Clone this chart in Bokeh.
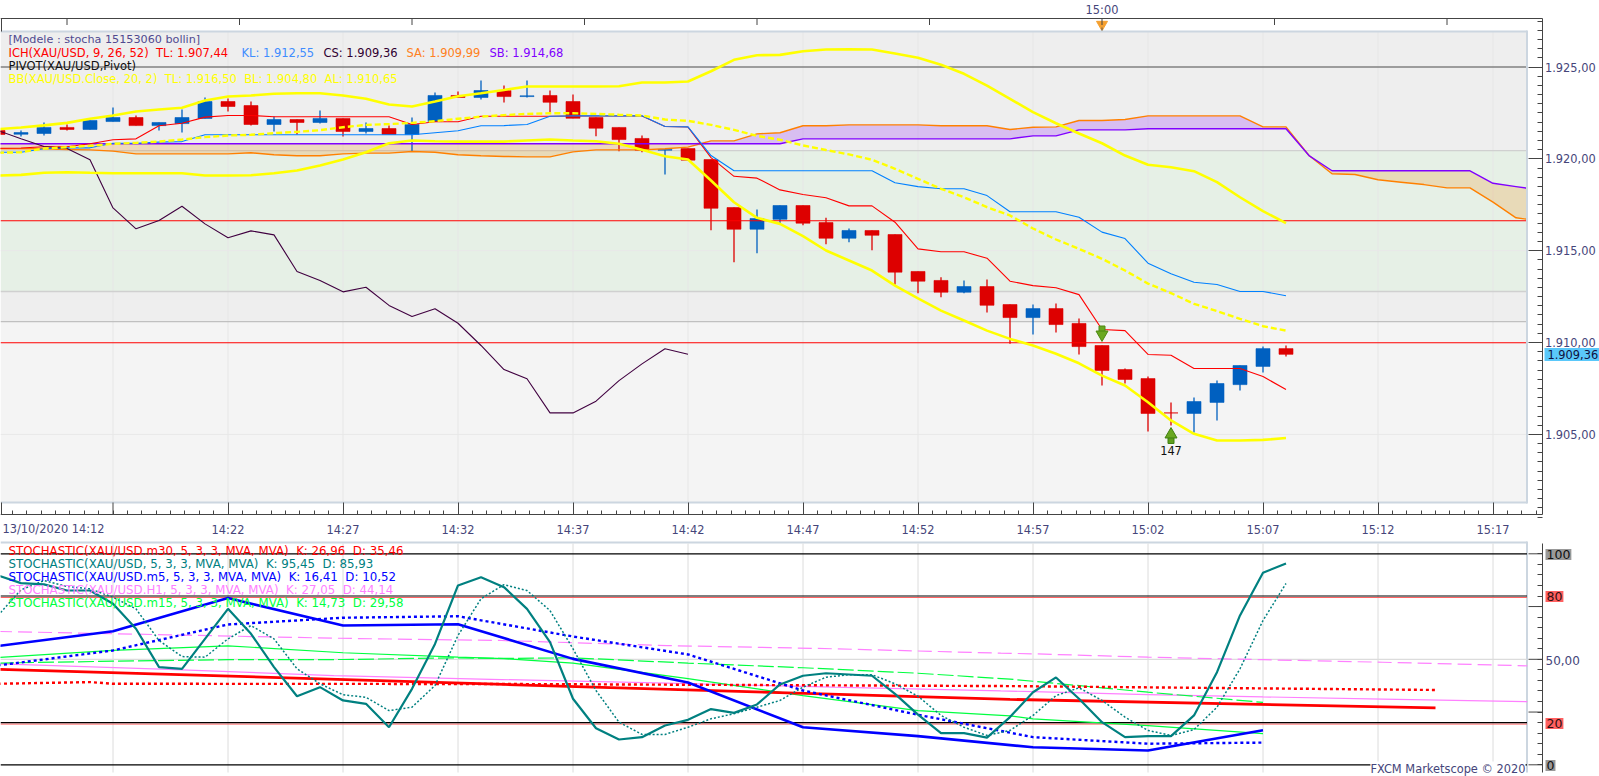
from bokeh.plotting import figure
from bokeh.models import FixedTicker, Label, Range1d, LinearAxis
from bokeh.embed import file_html
from bokeh.resources import INLINE

# ---------- data (minutes since 14:12, one candle per minute) ----------
open_ = [1921.54,1921.34,1921.38,1921.71,1921.60,1922.03,1922.25,1921.81,1921.92,1922.20,1923.12,1922.90,1921.87,1922.14,1921.98,1922.20,1921.49,1921.65,1921.33,1922.03,1923.45,1923.34,1923.72,1923.39,1923.45,1923.12,1922.25,1921.71,1921.11,1920.47,1920.56,1919.96,1917.35,1916.17,1916.71,1917.46,1916.53,1915.68,1916.10,1915.88,1913.87,1913.38,1912.74,1913.05,1912.07,1911.36,1911.85,1911.04,1909.84,1908.53,1908.04,1906.17,1906.14,1906.74,1907.71,1908.70,1909.67]
high = [1921.54,1921.54,1921.98,1921.87,1922.09,1922.79,1922.36,1921.98,1922.69,1923.34,1923.28,1923.12,1922.30,1922.14,1922.63,1922.20,1921.98,1921.81,1922.25,1923.61,1923.66,1924.26,1923.99,1924.26,1923.72,1923.50,1922.25,1921.71,1921.27,1920.50,1920.56,1919.96,1917.35,1917.24,1917.46,1917.46,1916.80,1916.21,1916.10,1915.88,1913.87,1913.56,1913.38,1913.43,1912.07,1912.07,1912.12,1911.31,1909.84,1908.59,1908.15,1906.73,1907.01,1907.93,1908.75,1909.78,1909.84]
low = [1921.33,1921.22,1921.27,1921.54,1921.60,1922.03,1921.81,1921.54,1921.43,1922.20,1922.58,1921.81,1921.49,1921.33,1921.92,1921.22,1921.38,1921.33,1920.40,1922.03,1923.34,1923.23,1923.07,1923.34,1922.52,1922.21,1921.23,1920.42,1920.36,1919.15,1919.93,1916.12,1914.37,1914.86,1916.50,1916.39,1915.35,1915.46,1915.03,1913.16,1912.69,1912.47,1912.69,1911.63,1909.93,1910.44,1910.55,1909.35,1907.66,1907.77,1905.16,1905.48,1905.10,1905.75,1907.39,1908.37,1909.24]
close = [1921.33,1921.43,1921.71,1921.60,1922.09,1922.25,1921.81,1921.98,1922.25,1923.12,1922.85,1921.87,1922.14,1921.98,1922.20,1921.49,1921.65,1921.33,1921.87,1923.45,1923.34,1923.72,1923.39,1923.43,1923.08,1922.21,1921.67,1921.05,1920.47,1920.51,1919.93,1917.31,1916.17,1916.75,1917.46,1916.50,1915.68,1916.10,1915.84,1913.83,1913.34,1912.74,1913.05,1912.03,1911.36,1911.85,1910.98,1909.78,1908.48,1907.99,1906.14,1906.17,1906.79,1907.77,1908.75,1909.67,1909.36]

bb_upper = [1921.62,1921.71,1921.82,1921.96,1922.18,1922.36,1922.58,1922.69,1922.78,1923.18,1923.39,1923.45,1923.54,1923.57,1923.57,1923.45,1923.27,1922.96,1922.85,1923.12,1923.41,1923.57,1923.75,1923.94,1923.94,1923.94,1923.94,1923.95,1924.16,1924.16,1924.21,1924.77,1925.39,1925.64,1925.66,1925.86,1925.95,1925.97,1925.95,1925.73,1925.50,1925.12,1924.63,1923.99,1923.27,1922.54,1921.94,1921.38,1920.85,1920.18,1919.68,1919.54,1919.33,1918.73,1917.91,1917.15,1916.50]
bb_mid = [1920.33,1920.36,1920.56,1920.63,1920.71,1920.82,1920.87,1920.94,1921.05,1921.18,1921.27,1921.31,1921.40,1921.47,1921.56,1921.72,1921.85,1921.89,1921.96,1922.05,1922.18,1922.30,1922.38,1922.45,1922.48,1922.48,1922.45,1922.40,1922.36,1922.14,1922.07,1921.85,1921.58,1921.25,1921.04,1920.73,1920.48,1920.24,1919.95,1919.46,1918.91,1918.37,1917.91,1917.37,1916.92,1916.21,1915.61,1915.10,1914.56,1913.92,1913.21,1912.69,1912.11,1911.71,1911.29,1910.89,1910.65]
bb_lower = [1919.09,1919.13,1919.24,1919.27,1919.24,1919.22,1919.22,1919.22,1919.22,1919.09,1919.09,1919.11,1919.22,1919.37,1919.64,1919.96,1920.36,1920.85,1921.00,1920.96,1920.94,1920.94,1920.94,1921.00,1921.05,1921.00,1920.96,1920.82,1920.49,1920.14,1919.96,1918.82,1917.64,1916.79,1916.46,1915.79,1915.01,1914.47,1913.92,1913.10,1912.40,1911.74,1911.20,1910.65,1910.20,1909.84,1909.39,1908.87,1908.20,1907.66,1906.75,1905.76,1905.03,1904.67,1904.67,1904.70,1904.80]
tenkan = [1920.58,1920.59,1920.66,1920.66,1920.82,1921.04,1921.09,1921.80,1921.94,1922.27,1922.36,1922.36,1922.29,1922.29,1922.29,1922.29,1922.29,1922.29,1921.87,1922.02,1922.02,1922.32,1922.32,1922.32,1922.32,1922.33,1922.33,1922.33,1922.33,1921.76,1921.73,1920.07,1919.05,1918.95,1918.31,1918.06,1917.88,1917.44,1917.44,1916.55,1915.10,1914.94,1914.94,1914.59,1913.34,1913.10,1912.98,1912.61,1910.71,1910.65,1909.35,1909.31,1908.59,1908.59,1908.59,1908.15,1907.44]
kijun = [1920.36,1920.36,1920.55,1920.60,1920.60,1920.85,1920.85,1920.91,1920.94,1921.31,1921.31,1921.31,1921.31,1921.31,1921.31,1921.31,1921.31,1921.31,1921.31,1921.42,1921.53,1921.80,1921.81,1921.87,1922.32,1922.34,1922.34,1922.34,1922.34,1921.76,1921.74,1920.18,1919.35,1919.35,1919.35,1919.35,1919.35,1919.35,1919.35,1918.70,1918.49,1918.37,1918.37,1918.00,1917.12,1917.12,1917.12,1916.82,1916.01,1915.66,1914.32,1913.74,1913.28,1913.16,1912.78,1912.78,1912.55]
senkou_a = [1920.55,1920.55,1920.55,1920.51,1920.49,1920.42,1920.27,1920.27,1920.27,1920.27,1920.27,1920.33,1920.22,1920.17,1920.17,1920.27,1920.31,1920.31,1920.40,1920.36,1920.22,1920.17,1920.13,1920.11,1920.11,1920.38,1920.49,1920.49,1920.49,1920.55,1920.64,1920.98,1920.98,1921.36,1921.42,1921.80,1921.80,1921.85,1921.85,1921.85,1921.85,1921.80,1921.80,1921.80,1921.60,1921.72,1921.74,1922.09,1922.09,1922.14,1922.34,1922.34,1922.34,1922.34,1922.34,1921.74,1921.74,1920.18,1919.19,1919.15,1918.86,1918.73,1918.60,1918.42,1918.42,1917.64,1916.79,1916.71]
senkou_b = [1920.82]*35 + [1921.09]*10 + [1921.25]*2 + [1921.58]*3 + [1921.64]*7 + [1920.18] + [1919.35]*7 + [1918.67,1918.49,1918.40]
chikou = [1921.54,1921.09,1920.67,1920.56,1919.95,1917.33,1916.19,1916.64,1917.42,1916.46,1915.70,1916.08,1915.86,1913.87,1913.38,1912.76,1913.01,1912.02,1911.42,1911.84,1911.05,1909.84,1908.53,1908.03,1906.17,1906.17,1906.81,1907.93,1908.84,1909.66,1909.36]
minutes = list(range(57))
cloud_minutes = list(range(67)) + [66.49]
levels = [1925.00, 1920.45, 1912.78, 1911.14]
level_colors = ["#808080", "#d0d0d0", "#d0d0d0", "#c0c0c0"]
red_levels = [1916.63, 1909.99]
band_edges = [1927.0, 1920.45, 1912.78, 1911.14, 1902.0]
band_colors = ["#eeeeee", "#e6f0e6", "#eeeeee", "#f4f4f4"]

stoch_k = [89.7,86.1,85.5,82.6,82.6,76.3,64.5,46.3,45.5,59.7,73.9,62.1,46.3,32.5,36.8,30.5,28.9,17.8,36.0,57.3,85.0,88.9,84.2,73.9,58.1,31.3,17.3,12.0,13.1,18.6,21.3,26.4,24.6,28.6,38.1,42.2,43.4,42.8,42.2,33.6,23.8,15.0,15.0,12.9,22.6,34.4,41.4,31.3,20.2,13.1,13.6,13.6,23.4,43.9,70.8,91.0,95.45]
stoch_d = [70.8,82.9,87.3,84.5,83.4,79.4,73.9,58.9,51.3,51.0,59.7,66.0,59.7,45.5,38.4,33.2,32.0,25.7,27.3,37.6,61.3,78.7,85.4,82.6,73.1,55.0,35.2,20.2,14.4,14.4,17.8,21.8,24.2,27.3,30.5,36.8,41.5,42.7,42.7,38.4,32.5,23.4,17.8,13.9,16.3,23.4,32.8,36.5,30.5,22.6,16.3,13.9,16.7,27.3,45.5,68.4,85.93]
m5_minutes = [0,5,10,15,20,25,30,35,40,45,50,55]
m5_k = [56.3,63.3,79.0,66.0,66.6,50.2,39.0,17.8,13.6,8.3,6.8,16.41]
m5_d = [47.1,54.2,66.5,69.7,70.4,60.8,52.3,35.2,23.7,13.1,10.0,10.52]
m15_minutes = [0,5,10,15,20,22,25,30,35,40,44,45,50,55]
m15_k = [50.9,54.2,56.4,53.1,51.0,50.3,48.2,40.8,32.8,25.7,23.2,21.8,18.6,14.73]
m15_d = [48.2,49.1,49.8,49.9,50.7,50.4,50.7,48.2,46.0,43.4,40.6,39.6,34.4,29.58]
m30_minutes = [0,22,44,62.5]
m30_k = [45.3,38.1,31.0,26.96]
m30d_minutes = [0,4,5,22,44,62.5]
m30_d = [38.4,39.2,38.4,38.3,37.3,35.46]
h1_minutes = [0,7.4,14.6,21.9,29.1,36.3,43.6,45,50,55,60.2,66.49]
h1_k = [47.9,45.2,42.3,40.4,38.7,36.8,35.0,34.7,33.3,32.2,31.1,29.9]
h1_d = [63.2,61.6,60.0,58.9,56.5,55.0,52.9,52.6,51.0,49.8,48.6,46.9]
osc_levels = [100, 80, 20, 0]

time_labels = {10:"14:22",15:"14:27",20:"14:32",25:"14:37",30:"14:42",35:"14:47",40:"14:52",45:"14:57",50:"15:02",55:"15:07",60:"15:12",65:"15:17"}
price_ticks = [1905,1910,1915,1920,1925]
price_labels = {1905:"1.905,00",1910:"1.910,00",1915:"1.915,00",1920:"1.920,00",1925:"1.925,00"}
top_ticks = [3,10.5,18,25.5,33,40.5,48,55.5,63]

# ---------- layout constants ----------
FONT = "DejaVu Sans"
FS = "11.4px"
BIG = "12.5px"
LEG = "11.5px"
STO = "11.8px"
AXC = "#444444"
TXT = "#45457a"
RED, BLUE, TEAL, PINK, GREEN = "#ff0000", "#0000ff", "#008080", "#ff80ff", "#00ff40"
NB = "\u00a0\u00a0"
def mx(px): return (px + 2.5) / 23.0
def py(px): return 1925.0 - (px - 66.5) / 18.37
def oy(px): return (764.3 - px) / 2.11
PANEL_R = mx(1526.5)
AX_X = mx(1541.5)
GRID = list(range(5, 70, 5))
L = mx(0)

# ---------- one frame fills the page; axes are pinned inside it ----------
p = figure(width=1599, height=776, output_backend="svg", toolbar_location=None,
           x_range=Range1d(mx(0), mx(1599)), y_range=Range1d(py(776), py(0)),
           x_axis_location=None, y_axis_location=None,
           min_border_left=0, min_border_right=0, min_border_top=0, min_border_bottom=0)
p.extra_y_ranges = {"osc": Range1d(oy(776), oy(0))}
p.outline_line_color = None
p.grid.visible = False
p.background_fill_color = "white"
p.border_fill_color = "white"

for i, c in enumerate(band_colors):
    top = py(31) if i == 0 else band_edges[i]
    bottom = py(501.7) if i == 3 else band_edges[i + 1]
    p.quad(left=[L], right=[PANEL_R], top=[top], bottom=[bottom], fill_color=c, line_color=None)

p.segment(x0=GRID, x1=GRID, y0=[py(31)]*len(GRID), y1=[py(501)]*len(GRID), line_color="#e6e6e6", line_width=1)
p.segment(x0=[L]*2, x1=[PANEL_R]*2, y0=[1905,1915], y1=[1905,1915], line_color="#e8e8e8", line_width=1)
for lv, c in zip(levels, level_colors):
    p.line([L, PANEL_R], [lv, lv], line_color=c, line_width=1.5 if lv == 1925.0 else 1.3)

up_a = [max(a, b) for a, b in zip(senkou_a, senkou_b)]
dn_a = [min(a, b) for a, b in zip(senkou_a, senkou_b)]
p.varea(x=cloud_minutes, y1=senkou_b, y2=up_a, fill_color="#8000ff", fill_alpha=0.2)
p.varea(x=cloud_minutes, y1=senkou_b, y2=dn_a, fill_color="#f08000", fill_alpha=0.2)

cols = ["#0060c0" if c > o else "#dd0000" for o, c in zip(open_, close)]
p.segment(x0=minutes, x1=minutes, y0=high, y1=low, line_color=cols, line_width=1.3)
p.vbar(x=minutes, width=14/23, top=[max(a, b) for a, b in zip(open_, close)],
       bottom=[min(a, b) for a, b in zip(open_, close)], fill_color=cols, line_color=cols, line_width=0.6)

for lv in red_levels:
    p.line([L, PANEL_R], [lv, lv], line_color=RED, line_width=1.2)
p.line(cloud_minutes, senkou_a, line_color="#ff8000", line_width=1.4)
p.line(cloud_minutes, senkou_b, line_color="#8000ff", line_width=1.4)
p.line(minutes, tenkan, line_color=RED, line_width=1.1)
p.line(minutes, kijun, line_color="#0080ff", line_width=1.1)
p.line(list(range(len(chikou))), chikou, line_color="#400040", line_width=1.1)
p.line(minutes, bb_upper, line_color="#ffff00", line_width=2.6)
p.line(minutes, bb_lower, line_color="#ffff00", line_width=2.6)
p.line(minutes, bb_mid, line_color="#ffff00", line_width=2.4, line_dash="6 3")

# signal arrows
p.rect(x=[48], y=[py(329)], width=6, height=7, width_units="screen", height_units="screen", fill_color="#6aa821", line_color="#4d8a12")
p.scatter(x=[48], y=[py(334)], marker="inverted_triangle", size=12, fill_color="#6aa821", line_color="#4d8a12")
p.rect(x=[51], y=[py(439.5)], width=6, height=7, width_units="screen", height_units="screen", fill_color="#5f9e1c", line_color="#3f7f10")
p.scatter(x=[51], y=[py(434)], marker="triangle", size=12, fill_color="#6aa821", line_color="#3f7f10")
p.scatter(x=[48], y=[py(24)], marker="inverted_triangle", size=11, fill_color="#f5a030", line_color="#f5a030")
p.segment(x0=[48], x1=[48], y0=[py(27)], y1=[py(31)], line_color="#555555")

# panel borders
p.line([L, PANEL_R], [py(31)]*2, line_color="#ccd6e0", line_width=2)
p.line([L, PANEL_R], [py(502)]*2, line_color="#ccd6e0", line_width=2)
p.line([PANEL_R, PANEL_R], [py(30), py(503)], line_color="#ccd6e0", line_width=2)
p.line([L, PANEL_R], [py(542)]*2, line_color="#ccd6e0", line_width=2)
p.line([PANEL_R, PANEL_R], [py(541), py(772)], line_color="#ccd6e0", line_width=2)

# axes
def style(a):
    a.axis_line_color = AXC
    a.major_tick_line_color = AXC
    a.minor_tick_line_color = AXC
    a.major_label_text_font = FONT
    a.major_label_text_font_size = FS
    a.major_label_text_color = TXT

xa = LinearAxis(ticker=FixedTicker(ticks=GRID[1:], minor_ticks=[i * 0.625 for i in range(1, 108)]))
style(xa)
xa.major_label_overrides = time_labels
xa.major_tick_in, xa.major_tick_out, xa.minor_tick_in, xa.minor_tick_out = 12, 0, 4, 0
xa.major_label_standoff = 8
xa.bounds = (L, AX_X)
xa.fixed_location = py(514)
p.add_layout(xa, "below")
p.segment(x0=[5, mx(1)], x1=[5, mx(1)], y0=[py(514)]*2, y1=[py(502)]*2, line_color=AXC)

ta = LinearAxis(ticker=FixedTicker(ticks=[]))
style(ta)
ta.major_tick_in, ta.major_tick_out, ta.minor_tick_in, ta.minor_tick_out = 0, 0, 0, 0
ta.bounds = (L, AX_X)
ta.fixed_location = py(18.3)
p.add_layout(ta, "above")
p.segment(x0=top_ticks, x1=top_ticks, y0=[py(18)]*len(top_ticks), y1=[py(24.5)]*len(top_ticks), line_color=AXC)
p.segment(x0=[mx(1)], x1=[mx(1)], y0=[py(18)], y1=[py(31)], line_color=AXC)

ya = LinearAxis(ticker=FixedTicker(ticks=price_ticks, minor_ticks=[1900.5 + i * 0.5 for i in range(55)]))
style(ya)
ya.major_label_overrides = price_labels
ya.major_tick_in, ya.major_tick_out, ya.minor_tick_in, ya.minor_tick_out = 14, 0, 5, 0
ya.major_label_standoff = 3
ya.bounds = (py(514), py(18.3))
ya.fixed_location = AX_X
p.add_layout(ya, "right")

# ---------- oscillator ----------
OSC = "osc"
p.segment(x0=GRID, x1=GRID, y0=[oy(543)]*len(GRID), y1=[oy(772)]*len(GRID), line_color="#dcdcdc", line_width=1, y_range_name=OSC)
p.line([L, PANEL_R], [50, 50], line_color="#dcdcdc", line_width=1.2, y_range_name=OSC)
for lv in osc_levels:
    if lv in (80, 20):
        p.line([L, PANEL_R], [lv - 0.7]*2, line_color="#ff6060", line_width=1, y_range_name=OSC)
    p.line([L, PANEL_R], [lv, lv], line_color="#000000", line_width=1.2, y_range_name=OSC)

p.line(h1_minutes, h1_d, line_color=PINK, line_width=1.2, line_dash="14 6", y_range_name=OSC)
p.line(h1_minutes, h1_k, line_color=PINK, line_width=1.2, y_range_name=OSC)
p.line(m15_minutes, m15_d, line_color=GREEN, line_width=1.2, line_dash="16 4", y_range_name=OSC)
p.line(m15_minutes, m15_k, line_color=GREEN, line_width=1.2, y_range_name=OSC)
p.line(m30_minutes, m30_k, line_color=RED, line_width=2.8, y_range_name=OSC)
p.line(m30d_minutes, m30_d, line_color=RED, line_width=2.4, line_dash="3 3", y_range_name=OSC)
p.line(m5_minutes, m5_k, line_color=BLUE, line_width=2.6, y_range_name=OSC)
p.line(m5_minutes, m5_d, line_color=BLUE, line_width=2.4, line_dash="3 3", y_range_name=OSC)
p.line(minutes, stoch_d, line_color=TEAL, line_width=1.5, line_dash="2 2", y_range_name=OSC)
p.line(minutes, stoch_k, line_color=TEAL, line_width=2.2, y_range_name=OSC)

qa = LinearAxis(y_range_name=OSC, ticker=FixedTicker(ticks=[], minor_ticks=[i * 5 for i in range(21)]))
style(qa)
qa.major_tick_in, qa.major_tick_out, qa.minor_tick_in, qa.minor_tick_out = 0, 0, 5, 0
qa.bounds = (oy(772), oy(543))
qa.fixed_location = AX_X
p.add_layout(qa, "right")
osc_major = [0, 25, 50, 75, 100]
p.segment(x0=[mx(1528)]*5, x1=[AX_X]*5, y0=osc_major, y1=osc_major, line_color=AXC, y_range_name=OSC)

def txt(x, y, s, color, align="left", size=FS, **kw):
    p.add_layout(Label(x=mx(x), y=py(y), text=s, text_color=color, text_font=FONT, text_font_size=size,
                       text_align=align, text_baseline="middle", **kw))

txt(8, 39, "[Modele : stocha 15153060 bollin]", "#504a90", size="11.2px")
txt(8, 52, f"ICH(XAU/USD, 9, 26, 52){NB}TL: 1.907,44", RED, size=LEG)
txt(241, 52, "KL: 1.912,55", "#3f8cff", size=LEG)
txt(323, 52, "CS: 1.909,36", "#300030", size=LEG)
txt(406, 52, "SA: 1.909,99", "#ff8020", size=LEG)
txt(489, 52, "SB: 1.914,68", "#8000ff", size=LEG)
txt(8, 65, "PIVOT(XAU/USD,Pivot)", "#101010", size=LEG)
txt(8, 78, f"BB(XAU/USD.Close, 20, 2){NB}TL: 1.916,50{NB}BL: 1.904,80{NB}AL: 1.910,65", "#ffff00", size=LEG)
txt(1170.5, 450, "147", "#101010", align="center")
txt(1101.5, 9, "15:00", TXT, align="center")
txt(2, 528, "13/10/2020 14:12", TXT)
txt(1544, 354, "1.909,36", "#101040", size="11.4px", background_fill_color="#5ac8fa", padding=(3, 2))

txt(8, 550, f"STOCHASTIC(XAU/USD.m30, 5, 3, 3, MVA, MVA){NB}K: 26,96{NB}D: 35,46", RED, size=STO)
txt(8, 563, f"STOCHASTIC(XAU/USD, 5, 3, 3, MVA, MVA){NB}K: 95,45{NB}D: 85,93", TEAL, size=STO)
txt(8, 576, f"STOCHASTIC(XAU/USD.m5, 5, 3, 3, MVA, MVA){NB}K: 16,41{NB}D: 10,52", BLUE, size=STO)
txt(8, 589, f"STOCHASTIC(XAU/USD.H1, 5, 3, 3, MVA, MVA){NB}K: 27,05{NB}D: 44,14", PINK, size=STO)
txt(8, 602, f"STOCHASTIC(XAU/USD.m15, 5, 3, 3, MVA, MVA){NB}K: 14,73{NB}D: 29,58", GREEN, size=STO)
txt(1525, 768, "FXCM Marketscope © 2020", "#45457a", align="right", background_fill_color="white")
txt(1545, 554, "100", "#101010", size=BIG, background_fill_color="#999999", padding=(1, 1))
txt(1545, 596, "80", "#301010", size=BIG, background_fill_color="#ff6060", padding=(1, 1))
txt(1545, 660, "50,00", TXT, size="12px")
txt(1545, 723, "20", "#301010", size=BIG, background_fill_color="#ff6060", padding=(1, 1))
txt(1545, 765, "0", "#101010", size=BIG, background_fill_color="#999999", padding=(1, 1))

open("out.html", "w").write(file_html(p, INLINE))
